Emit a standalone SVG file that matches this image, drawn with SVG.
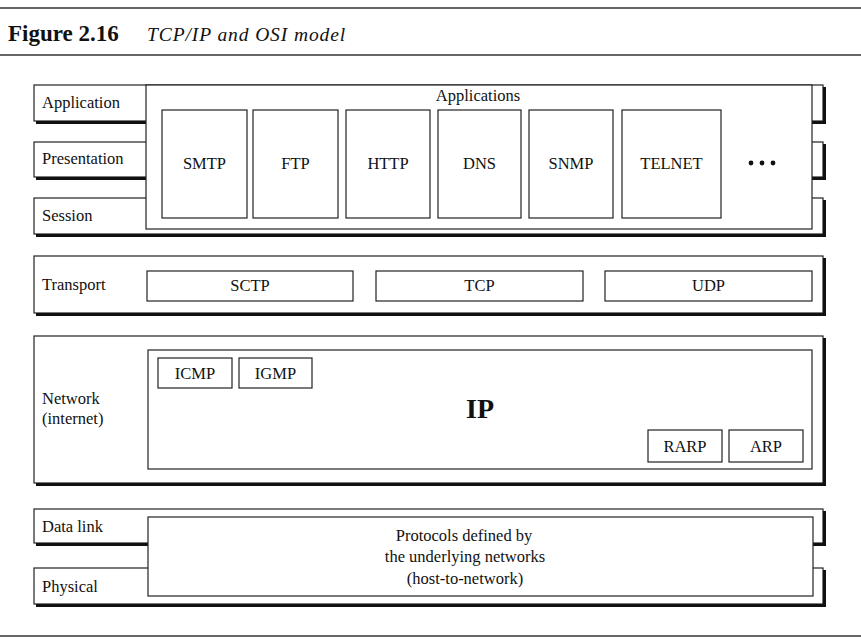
<svg xmlns="http://www.w3.org/2000/svg" width="861" height="642" viewBox="0 0 861 642">
<style>
text{font-family:"Liberation Serif","Times New Roman",serif;fill:#111}
.lay{fill:#fff;stroke:#222;stroke-width:1.2}
.sh{stroke:#111;stroke-width:3;fill:none}
.box{fill:#fff;stroke:#222;stroke-width:1.2}
.lbl{font-size:16.5px}
.p{font-size:16.5px;text-anchor:middle}
.rule{stroke:#333;stroke-width:1.5}
</style>
<rect width="861" height="642" fill="#fff"/>
<g id="title">
<line class="rule" x1="0" y1="8" x2="861" y2="8"/>
<text x="8" y="41" font-size="23" font-weight="bold">Figure 2.16</text>
<text x="147" y="41" font-size="19.5" font-style="italic" letter-spacing="0.9">TCP/IP and OSI model</text>
<line class="rule" x1="0" y1="55" x2="861" y2="55"/>
<line class="rule" x1="0" y1="636" x2="861" y2="636"/>
</g>
<g id="osi-layers">
<g id="application-layer"><rect class="lay" x="34" y="85" width="789" height="36"/><polyline class="sh" points="36,122.5 824.5,122.5 824.5,87"/><text class="lbl" x="42" y="108">Application</text></g>
<g id="presentation-layer"><rect class="lay" x="34" y="142" width="789" height="35"/><polyline class="sh" points="36,178.5 824.5,178.5 824.5,144"/><text class="lbl" x="42" y="164">Presentation</text></g>
<g id="session-layer"><rect class="lay" x="34" y="198" width="789" height="36"/><polyline class="sh" points="36,235.5 824.5,235.5 824.5,200"/><text class="lbl" x="42" y="221">Session</text></g>
<g id="transport-layer"><rect class="lay" x="34" y="256" width="789" height="57"/><polyline class="sh" points="36,314.5 824.5,314.5 824.5,258"/><text class="lbl" x="42" y="290">Transport</text></g>
<g id="network-layer"><rect class="lay" x="34" y="336" width="789" height="147"/><polyline class="sh" points="36,484.5 824.5,484.5 824.5,338"/><text class="lbl" x="42" y="404">Network</text><text class="lbl" x="42" y="424">(internet)</text></g>
<g id="datalink-layer"><rect class="lay" x="34" y="509" width="789" height="34"/><polyline class="sh" points="36,544.5 824.5,544.5 824.5,511"/><text class="lbl" x="42" y="532">Data link</text></g>
<g id="physical-layer"><rect class="lay" x="34" y="568" width="789" height="36"/><polyline class="sh" points="36,605.5 824.5,605.5 824.5,570"/><text class="lbl" x="42" y="592">Physical</text></g>
</g>
<g id="applications">
<rect class="box" x="146" y="85" width="666" height="144"/>
<text class="p" x="478" y="101">Applications</text>
<g id="smtp"><rect class="box" x="162" y="110" width="85" height="108"/><text class="p" x="204.5" y="169">SMTP</text></g>
<g id="ftp"><rect class="box" x="253" y="110" width="85" height="108"/><text class="p" x="295.5" y="169">FTP</text></g>
<g id="http"><rect class="box" x="346" y="110" width="84" height="108"/><text class="p" x="388" y="169">HTTP</text></g>
<g id="dns"><rect class="box" x="438" y="110" width="83" height="108"/><text class="p" x="479.5" y="169">DNS</text></g>
<g id="snmp"><rect class="box" x="529" y="110" width="84" height="108"/><text class="p" x="571" y="169">SNMP</text></g>
<g id="telnet"><rect class="box" x="622" y="110" width="99" height="108"/><text class="p" x="671.5" y="169">TELNET</text></g>
<g id="more"><circle cx="751" cy="163" r="2.4" fill="#111"/><circle cx="762" cy="163" r="2.4" fill="#111"/><circle cx="773" cy="163" r="2.4" fill="#111"/></g>
</g>
<g id="transport">
<g id="sctp"><rect class="box" x="147" y="271" width="206" height="30"/><text class="p" x="250" y="291">SCTP</text></g>
<g id="tcp"><rect class="box" x="376" y="271" width="207" height="30"/><text class="p" x="479.5" y="291">TCP</text></g>
<g id="udp"><rect class="box" x="605" y="271" width="207" height="30"/><text class="p" x="708.5" y="291">UDP</text></g>
</g>
<g id="network">
<g id="ip"><rect class="box" x="148" y="350" width="664" height="119"/><text x="480" y="418" font-size="28" font-weight="bold" text-anchor="middle">IP</text></g>
<g id="icmp"><rect class="box" x="158" y="358" width="74" height="30"/><text class="p" x="195" y="379">ICMP</text></g>
<g id="igmp"><rect class="box" x="239" y="358" width="73" height="30"/><text class="p" x="275.5" y="379">IGMP</text></g>
<g id="rarp"><rect class="box" x="648" y="430" width="74" height="32"/><text class="p" x="685" y="452">RARP</text></g>
<g id="arp"><rect class="box" x="729" y="430" width="74" height="32"/><text class="p" x="766" y="452">ARP</text></g>
</g>
<g id="host-to-network">
<rect class="box" x="148" y="517" width="665" height="79"/>
<text class="p" x="464" y="541" font-size="17">Protocols defined by</text>
<text class="p" x="465" y="562" font-size="17">the underlying networks</text>
<text class="p" x="465" y="584" font-size="17">(host-to-network)</text>
</g>
<g id="connectors"></g>
</svg>
